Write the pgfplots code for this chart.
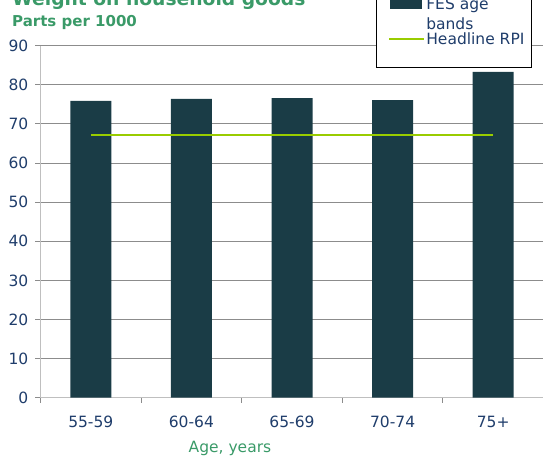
\documentclass[border=0pt]{standalone}
\usepackage{fontspec}
\setmainfont{DejaVu Sans}
\usepackage{pgfplots}
\pgfplotsset{compat=1.18}
\definecolor{barc}{HTML}{1A3C46}
\definecolor{linec}{HTML}{99CC00}
\definecolor{titleg}{HTML}{3A9A68}
\definecolor{tickb}{HTML}{1F3D6B}
\definecolor{gridc}{HTML}{8C8C8C}
\definecolor{axc}{HTML}{BFBFBF}
\begin{document}
\begin{tikzpicture}
\useasboundingbox (0pt,0pt) rectangle (543pt,-457pt);
\begin{pgfinterruptboundingbox}
\begin{axis}[
  at={(40.5pt,-397.7pt)}, anchor=south west,
  scale only axis, width=503pt, height=352pt,
  xmin=-0.5, xmax=4.5, ymin=0, ymax=90,
  ytick={0,10,...,90},
  xtick={0,...,4},
  xticklabels={55-59,60-64,65-69,70-74,75+},
  xtick style={draw=none},
  extra x ticks={-0.5,0.5,1.5,2.5,3.5,4.5},
  extra x tick labels={},
  extra x tick style={grid=none, xtick style={draw=gridc, line width=1pt}, major tick length=5pt, tick align=outside},
  ytick style={draw=gridc, line width=1pt},
  tick align=outside, major tick length=5pt,
  ymajorgrids, grid style={gridc, line width=1pt},
  axis x line*=bottom, axis y line*=left,
  axis line style={axc, line width=1.5pt},
  /pgf/number format/assume math mode=true,
  tick label style={font=\fontsize{15.5}{18}\selectfont, text=tickb},
  yticklabel style={anchor=east, inner sep=0pt, xshift=-7pt},
  xticklabel style={anchor=base, inner sep=0pt, yshift=-25pt},
  xlabel={Age, years},
  xlabel style={at={(rel axis cs:0.3767,0)}, anchor=base, yshift=-54.5pt, font=\fontsize{15.5}{18}\selectfont, text=titleg, inner sep=0pt},
  bar width=41pt,
  legend style={at={(0.977,0.9366)}, anchor=south east, draw=black, line width=1pt, fill=white,
    font=\fontsize{15.5}{20}\selectfont, text=tickb, inner xsep=6pt, inner ysep=21pt,
    nodes={inner sep=1pt}, column sep=0pt, row sep=19pt},
  legend cell align=left,
]
\addplot[ybar, fill=barc, draw=none,
  legend image code/.code={\path (0pt,0pt); \fill[barc] (6pt,-4.5pt) rectangle (38pt,6pt);}]
  coordinates {(0,75.9)(1,76.4)(2,76.6)(3,76.1)(4,83.3)};
\addlegendentry{\parbox[t]{80pt}{\fontsize{15.5}{20}\selectfont FES age\\bands}}
\addplot[linec, line width=2.5pt, mark=none,
  legend image code/.code={\path (0pt,0pt); \draw[linec, line width=2.5pt] (5pt,0pt) -- (40pt,0pt);}]
  coordinates {(0,67.2)(4,67.2)};
\addlegendentry{Headline RPI}
\end{axis}
\node[anchor=base west, font=\bfseries\fontsize{18.7}{22}\selectfont, text=titleg, inner sep=0pt] at (12pt,-6pt) {Weight on household goods};
\node[anchor=base west, font=\bfseries\fontsize{15}{18}\selectfont, text=titleg, inner sep=0pt] at (12pt,-27pt) {Parts per 1000};
\end{pgfinterruptboundingbox}
\end{tikzpicture}
\end{document}
